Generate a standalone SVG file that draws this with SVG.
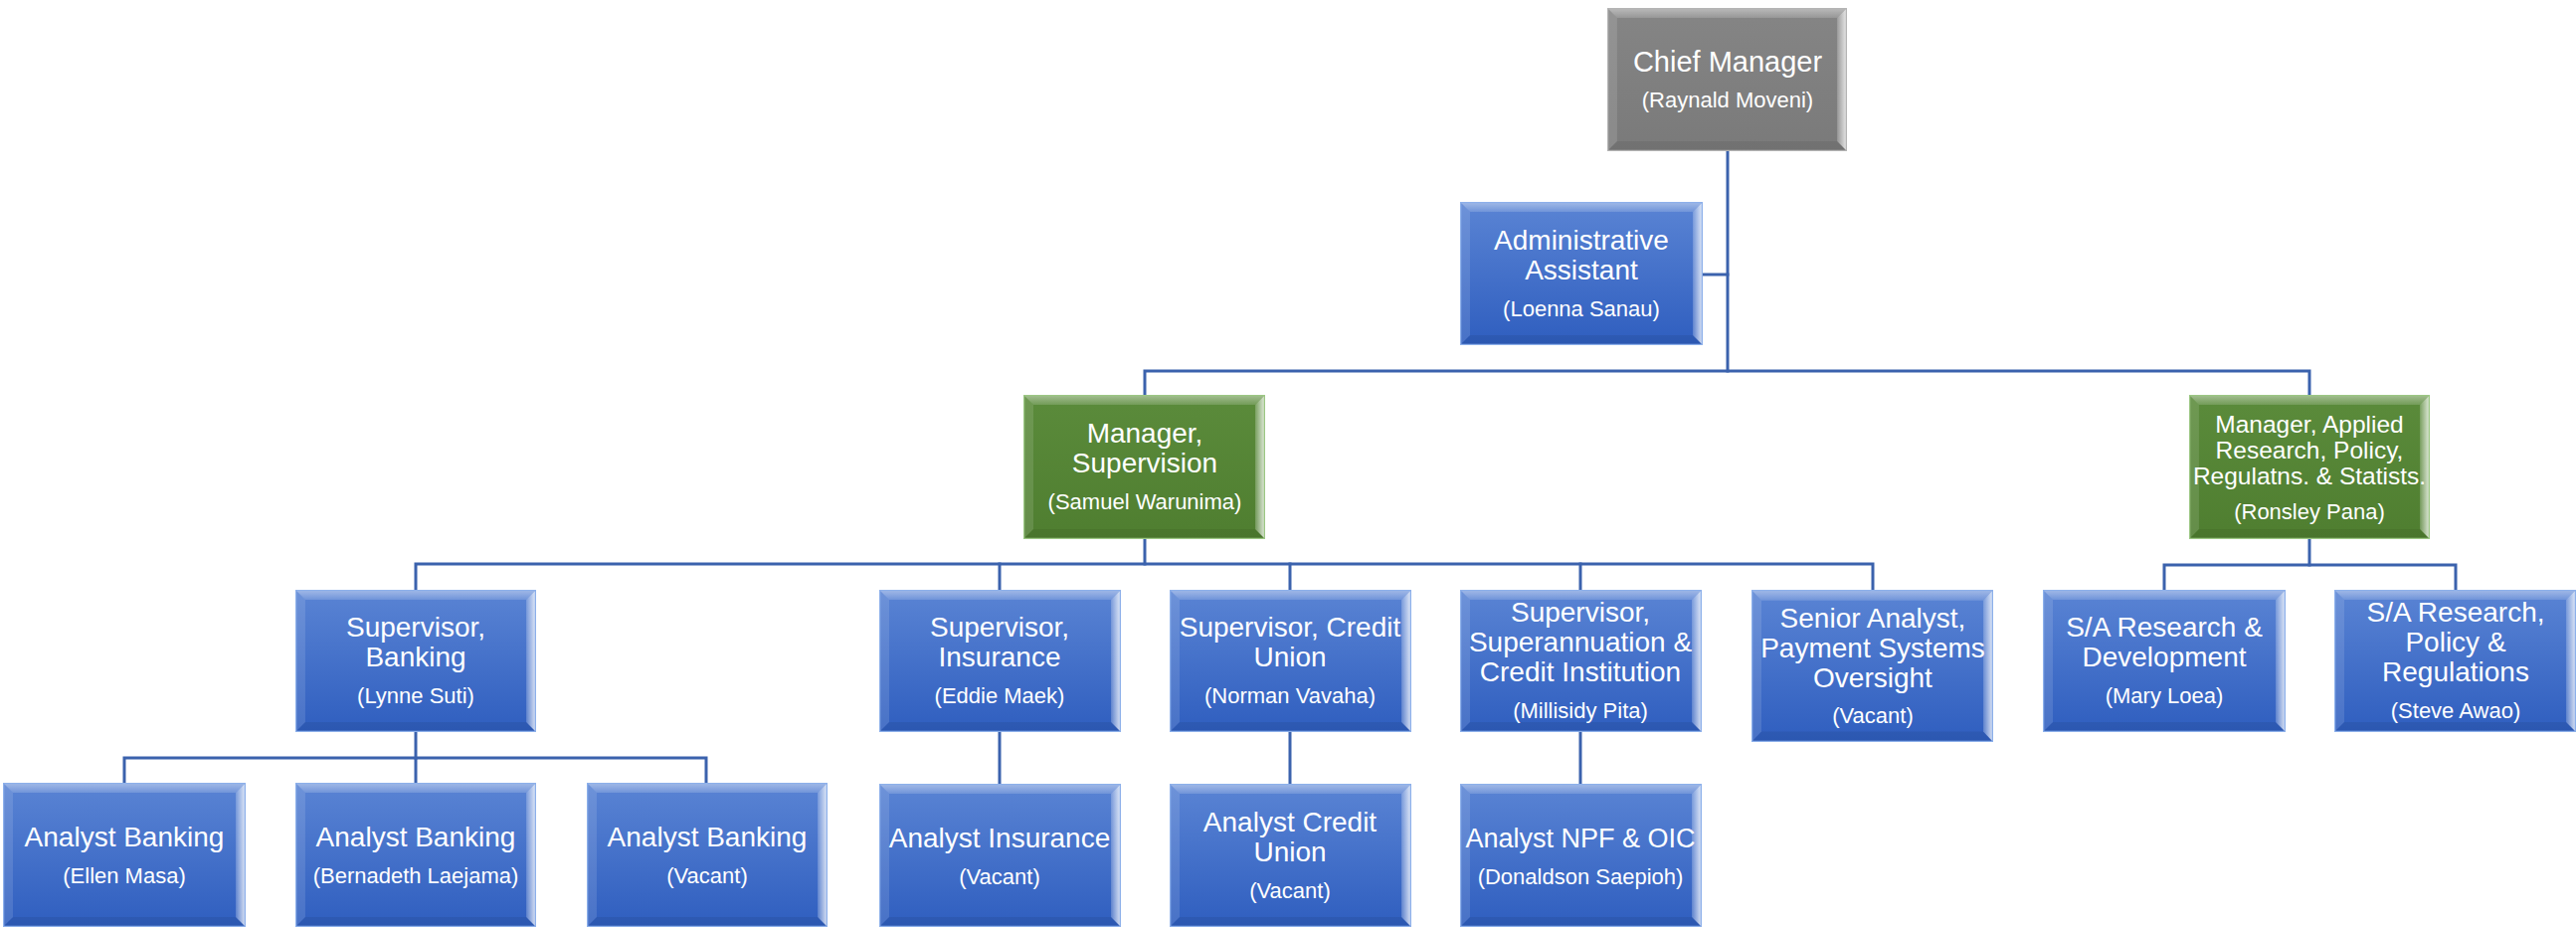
<svg xmlns="http://www.w3.org/2000/svg" xmlns:xlink="http://www.w3.org/1999/xlink" width="2590" height="932" viewBox="0 0 2590 932">
<style>
.conn{stroke:#3b62ad;stroke-width:3;fill:none;stroke-linecap:square}
text{font-family:"Liberation Sans",Arial,sans-serif;fill:#ffffff;text-anchor:middle}
.t{font-size:28px}
.t2{font-size:24.5px}
.s{font-size:22px}
</style>
<defs>
<linearGradient id="gBlue" x1="0" y1="0" x2="0" y2="1"><stop offset="0" stop-color="#5a84d4"/><stop offset="1" stop-color="#2f5ebf"/></linearGradient>
<linearGradient id="gGreen" x1="0" y1="0" x2="0" y2="1"><stop offset="0" stop-color="#5b8b3b"/><stop offset="1" stop-color="#4f7e30"/></linearGradient>
<linearGradient id="gGray" x1="0" y1="0" x2="0" y2="1"><stop offset="0" stop-color="#858585"/><stop offset="1" stop-color="#7a7a7a"/></linearGradient>
<linearGradient id="gTop" x1="0" y1="0" x2="0" y2="1"><stop offset="0" stop-color="#ffffff" stop-opacity="0.45"/><stop offset="1" stop-color="#ffffff" stop-opacity="0.15"/></linearGradient>
<linearGradient id="gRight" x1="0" y1="0" x2="1" y2="0"><stop offset="0" stop-color="#ffffff" stop-opacity="0.2"/><stop offset="1" stop-color="#ffffff" stop-opacity="0.85"/></linearGradient>
<g id="bevel">
<polygon points="0,0 243,0 233,10 10,10" fill="url(#gTop)"/>
<polygon points="0,0 10,10 10,134 0,144" fill="#ffffff" fill-opacity="0.12"/>
<polygon points="243,0 243,144 233,134 233,10" fill="url(#gRight)"/>
<polygon points="0,144 10,134 233,134 243,144" fill="#000000" fill-opacity="0.07"/>
</g>
<symbol id="boxBlue" viewBox="0 0 243 144" preserveAspectRatio="none">
<rect x="0" y="0" width="243" height="144" fill="url(#gBlue)"/>
<use href="#bevel"/>
<rect x="0.5" y="0.5" width="242" height="143" fill="none" stroke="#8db0ea" stroke-width="1.5" vector-effect="non-scaling-stroke"/>
</symbol>
<symbol id="boxGreen" viewBox="0 0 243 144" preserveAspectRatio="none">
<rect x="0" y="0" width="243" height="144" fill="url(#gGreen)"/>
<use href="#bevel"/>
<rect x="0.5" y="0.5" width="242" height="143" fill="none" stroke="#9cc784" stroke-width="1.5" vector-effect="non-scaling-stroke"/>
</symbol>
<symbol id="boxGray" viewBox="0 0 243 144" preserveAspectRatio="none">
<rect x="0" y="0" width="243" height="144" fill="url(#gGray)"/>
<use href="#bevel"/>
<rect x="0.5" y="0.5" width="242" height="143" fill="none" stroke="#b4b4b4" stroke-width="1.5" vector-effect="non-scaling-stroke"/>
</symbol>
</defs>
<rect width="2590" height="932" fill="#ffffff"/>
<g id="connectors">
<path class="conn" d="M1737,152 V373"/>
<path class="conn" d="M1712,276 H1737"/>
<path class="conn" d="M1151,397 V373 H2322 V397"/>
<path class="conn" d="M1151,542 V567"/>
<path class="conn" d="M418,593 V567 H1883 V593"/>
<path class="conn" d="M1005,567 V593 M1297,567 V593 M1589,567 V593"/>
<path class="conn" d="M2322,542 V568"/>
<path class="conn" d="M2176,593 V568 H2469 V593"/>
<path class="conn" d="M418,736 V762"/>
<path class="conn" d="M125,787 V762 H710 V787 M418,762 V787"/>
<path class="conn" d="M1005,736 V788 M1297,736 V788 M1589,736 V788"/>
</g>
<g id="chief-manager">
<use href="#boxGray" x="1616" y="8" width="241" height="144"/>
<text class="t" x="1737" y="72" style="font-size:29px">Chief Manager</text>
<text class="s" x="1737" y="108">(Raynald Moveni)</text>
</g>
<g id="admin-assistant">
<use href="#boxBlue" x="1468" y="203" width="244" height="144"/>
<text class="t" x="1590" y="251">Administrative</text>
<text class="t" x="1590" y="281">Assistant</text>
<text class="s" x="1590" y="318">(Loenna Sanau)</text>
</g>
<g id="manager-supervision">
<use href="#boxGreen" x="1029" y="397" width="243" height="145"/>
<text class="t" x="1151" y="445">Manager,</text>
<text class="t" x="1151" y="475">Supervision</text>
<text class="s" x="1151" y="512">(Samuel Warunima)</text>
</g>
<g id="manager-applied">
<use href="#boxGreen" x="2201" y="397" width="242" height="145"/>
<text class="t2" x="2322" y="435">Manager, Applied</text>
<text class="t2" x="2322" y="461">Research, Policy,</text>
<text class="t2" x="2322" y="487">Regulatns. &amp; Statists.</text>
<text class="s" x="2322" y="522">(Ronsley Pana)</text>
</g>
<g id="supervisor-banking">
<use href="#boxBlue" x="297" y="593" width="242" height="143"/>
<text class="t" x="418" y="640">Supervisor,</text>
<text class="t" x="418" y="670">Banking</text>
<text class="s" x="418" y="707">(Lynne Suti)</text>
</g>
<g id="supervisor-insurance">
<use href="#boxBlue" x="884" y="593" width="243" height="143"/>
<text class="t" x="1005" y="640">Supervisor,</text>
<text class="t" x="1005" y="670">Insurance</text>
<text class="s" x="1005" y="707">(Eddie Maek)</text>
</g>
<g id="supervisor-credit-union">
<use href="#boxBlue" x="1176" y="593" width="243" height="143"/>
<text class="t" x="1297" y="640">Supervisor, Credit</text>
<text class="t" x="1297" y="670">Union</text>
<text class="s" x="1297" y="707">(Norman Vavaha)</text>
</g>
<g id="supervisor-superannuation">
<use href="#boxBlue" x="1468" y="593" width="243" height="143"/>
<text class="t" x="1589" y="625">Supervisor,</text>
<text class="t" x="1589" y="655">Superannuation &amp;</text>
<text class="t" x="1589" y="685">Credit Institution</text>
<text class="s" x="1589" y="722">(Millisidy Pita)</text>
</g>
<g id="senior-analyst-payment">
<use href="#boxBlue" x="1761" y="593" width="243" height="153"/>
<text class="t" x="1883" y="631">Senior Analyst,</text>
<text class="t" x="1883" y="661">Payment Systems</text>
<text class="t" x="1883" y="691">Oversight</text>
<text class="s" x="1883" y="727">(Vacant)</text>
</g>
<g id="sa-research-development">
<use href="#boxBlue" x="2054" y="593" width="244" height="143"/>
<text class="t" x="2176" y="640">S/A Research &amp;</text>
<text class="t" x="2176" y="670">Development</text>
<text class="s" x="2176" y="707">(Mary Loea)</text>
</g>
<g id="sa-research-policy">
<use href="#boxBlue" x="2347" y="593" width="243" height="143"/>
<text class="t" x="2469" y="625">S/A Research,</text>
<text class="t" x="2469" y="655">Policy &amp;</text>
<text class="t" x="2469" y="685">Regulations</text>
<text class="s" x="2469" y="722">(Steve Awao)</text>
</g>
<g id="analyst-banking-1">
<use href="#boxBlue" x="3" y="787" width="244" height="145"/>
<text class="t" x="125" y="851">Analyst Banking</text>
<text class="s" x="125" y="888">(Ellen Masa)</text>
</g>
<g id="analyst-banking-2">
<use href="#boxBlue" x="297" y="787" width="242" height="145"/>
<text class="t" x="418" y="851">Analyst Banking</text>
<text class="s" x="418" y="888">(Bernadeth Laejama)</text>
</g>
<g id="analyst-banking-3">
<use href="#boxBlue" x="590" y="787" width="242" height="145"/>
<text class="t" x="711" y="851">Analyst Banking</text>
<text class="s" x="711" y="888">(Vacant)</text>
</g>
<g id="analyst-insurance">
<use href="#boxBlue" x="884" y="788" width="243" height="144"/>
<text class="t" x="1005" y="852">Analyst Insurance</text>
<text class="s" x="1005" y="889">(Vacant)</text>
</g>
<g id="analyst-credit-union">
<use href="#boxBlue" x="1176" y="788" width="243" height="144"/>
<text class="t" x="1297" y="836">Analyst Credit</text>
<text class="t" x="1297" y="866">Union</text>
<text class="s" x="1297" y="903">(Vacant)</text>
</g>
<g id="analyst-npf-oic">
<use href="#boxBlue" x="1468" y="788" width="243" height="144"/>
<text class="t" x="1589" y="852" style="font-size:27px">Analyst NPF &amp; OIC</text>
<text class="s" x="1589" y="889">(Donaldson Saepioh)</text>
</g>
</svg>
